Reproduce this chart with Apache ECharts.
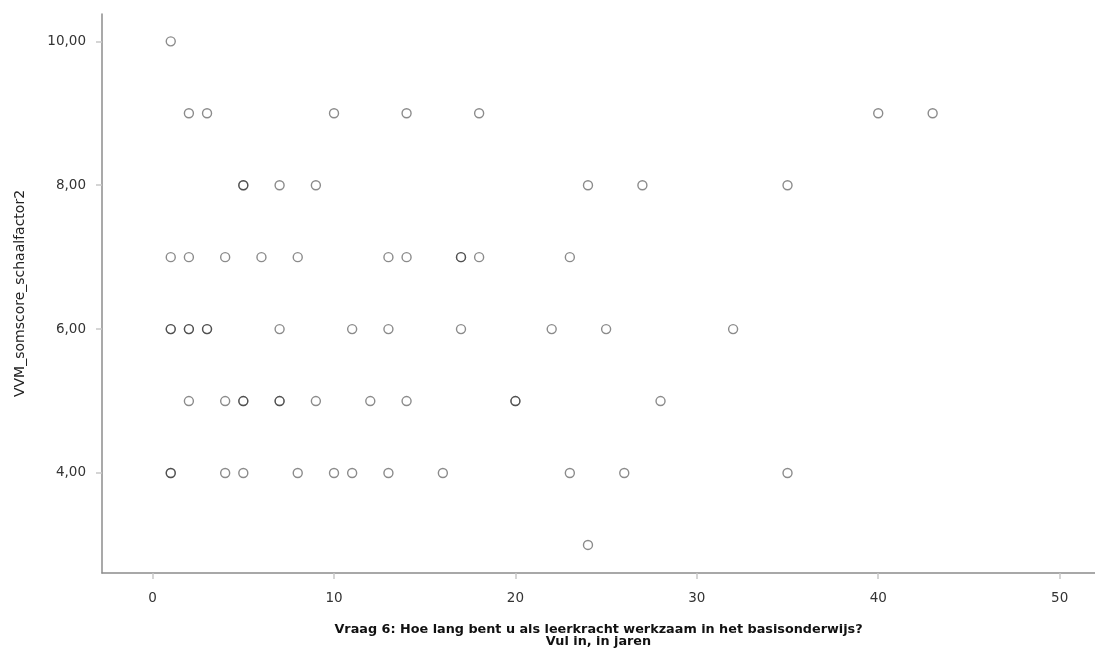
<!DOCTYPE html>
<html>
<head>
<meta charset="utf-8">
<script src="https://cdn.jsdelivr.net/npm/echarts@6/dist/echarts.min.js"></script>
<style>html,body{margin:0;padding:0;background:#fff;}#c{width:1095px;height:651px;}</style>
</head>
<body>
<div id="c"></div>
<script>
// Years of experience (x) and score (y); repeated pairs are overlapping respondents
const years = [
  1,
  2, 3, 10, 14, 18, 40, 43,
  5, 5, 7, 9, 24, 27, 35,
  1, 2, 4, 6, 8, 13, 14, 17, 17, 18, 23,
  1, 1, 2, 2, 3, 3, 7, 11, 13, 17, 22, 25, 32,
  2, 4, 5, 5, 7, 7, 9, 12, 14, 20, 20, 28,
  1, 1, 4, 5, 8, 10, 11, 13, 16, 23, 26, 35,
  24
];
const scores = [
  10,
  9, 9, 9, 9, 9, 9, 9,
  8, 8, 8, 8, 8, 8, 8,
  7, 7, 7, 7, 7, 7, 7, 7, 7, 7, 7,
  6, 6, 6, 6, 6, 6, 6, 6, 6, 6, 6, 6, 6,
  5, 5, 5, 5, 5, 5, 5, 5, 5, 5, 5, 5,
  4, 4, 4, 4, 4, 4, 4, 4, 4, 4, 4, 4,
  3
];
const xTicks = [0, 10, 20, 30, 40, 50];
const yTicks = [4, 6, 8, 10];
const xTitle = 'Vraag 6: Hoe lang bent u als leerkracht werkzaam in het basisonderwijs?\nVul in, in jaren';
const yTitle = 'VVM_somscore_schaalfactor2';

const points = years.map((x, i) => [x, scores[i]]);

const chart = echarts.init(document.getElementById('c'), null, {renderer: 'canvas'});
const axisLineStyle = {color: '#8c8c8c', width: 1.5};
chart.setOption({
  animation: false,
  grid: {left: 102, top: 14, right: 0, bottom: 78, containLabel: false, outerBoundsMode: 'none'},
  xAxis: {
    type: 'value', min: -2.79, max: 51.95,
    splitLine: {show: false},
    axisLine: {show: true, onZero: false, lineStyle: axisLineStyle},
    axisTick: {show: true, length: 6, customValues: xTicks, lineStyle: {color: '#c8c8c8', width: 1.5}},
    axisLabel: {customValues: xTicks, color: '#333', fontSize: 13.5, fontFamily: 'DejaVu Sans', margin: 18},
    name: xTitle, nameLocation: 'middle', nameGap: 51,
    nameTextStyle: {color: '#111', fontSize: 12.8, fontWeight: 'bold', fontFamily: 'DejaVu Sans', lineHeight: 12}
  },
  yAxis: {
    type: 'value', min: 2.61, max: 10.38,
    splitLine: {show: false},
    axisLine: {show: true, onZero: false, lineStyle: axisLineStyle},
    axisTick: {show: true, length: 6, customValues: yTicks, lineStyle: {color: '#c8c8c8', width: 1.5}},
    axisLabel: {customValues: yTicks, color: '#333', fontSize: 13.5, fontFamily: 'DejaVu Sans', margin: 16,
      formatter: v => v.toFixed(2).replace('.', ',')},
    name: yTitle, nameLocation: 'middle', nameGap: 75, nameRotate: 90,
    nameTextStyle: {color: '#222', fontSize: 14, fontFamily: 'DejaVu Sans'}
  },
  series: [{
    type: 'scatter',
    data: points,
    symbol: 'circle',
    symbolSize: 9,
    itemStyle: {color: 'rgba(255,255,255,0)', borderColor: 'rgba(20,20,20,0.62)', borderWidth: 1.4}
  }]
});
</script>
</body>
</html>
